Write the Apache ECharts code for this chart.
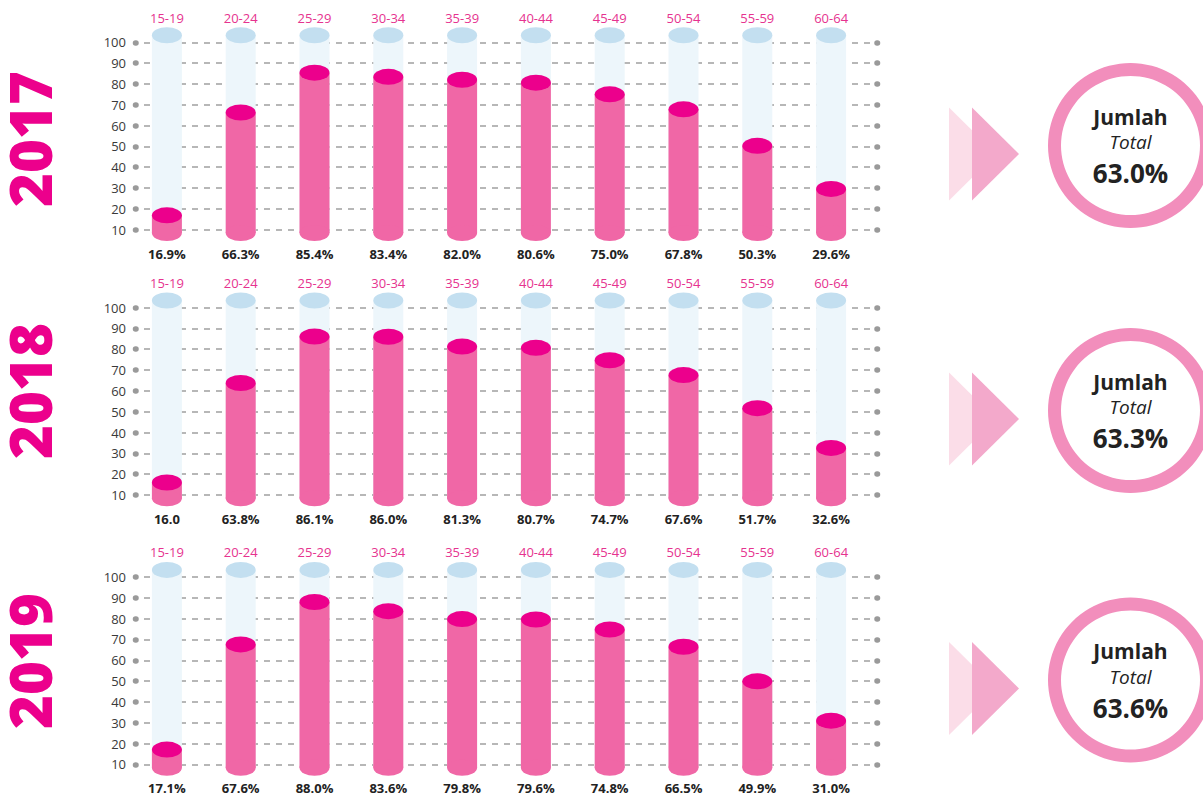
<!DOCTYPE html>
<html>
<head>
<meta charset="utf-8">
<script src="https://cdn.jsdelivr.net/npm/echarts@6/dist/echarts.min.js"></script>
<style>
  html, body { margin: 0; padding: 0; background: #ffffff; }
  #chart { width: 1203px; height: 796px; }
</style>
</head>
<body>
<div id="chart"></div>
<script>
// ---------- data ----------
const years = ['2017', '2018', '2019'];
const ageGroups = ['15-19', '20-24', '25-29', '30-34', '35-39', '40-44', '45-49', '50-54', '55-59', '60-64'];
const values2017 = [16.9, 66.3, 85.4, 83.4, 82.0, 80.6, 75.0, 67.8, 50.3, 29.6];
const values2018 = [16.0, 63.8, 86.1, 86.0, 81.3, 80.7, 74.7, 67.6, 51.7, 32.6];
const values2019 = [17.1, 67.6, 88.0, 83.6, 79.8, 79.6, 74.8, 66.5, 49.9, 31.0];
const totals = [63.0, 63.3, 63.6];
const yTicksMin = 10, yTicksMax = 100, yTickStep = 10;
// label printed without "%" in the source
const labelsWithoutPercent = { '2018': [0] };

// ---------- layout (positions / styles only) ----------
const panelValues = [values2017, values2018, values2019];
const panelTop = [42.3, 307.6, 577];   // pixel y of the 100 line
const panelH = 187.4;                  // 100 -> 10
const k = panelH / (yTicksMax - yTicksMin);
const trackTopVal = 103.4;             // full track height (scale units)
const baseVal = 8.4;                   // scale value at the bottom of the cylinders
const gridLeftA = 130, gridRightA = 1203 - 868;
const gridLeftB = 136, gridRightB = 1203 - 877;
const yearY = [139, 391, 661];
const ringCY = [145.5, 410.5, 680];
const FONT = '"Open Sans", "Noto Sans", sans-serif';

const ELLIPSE = 'path://M0 50A50 50 0 1 0 100 50A50 50 0 1 0 0 50Z';
const C_TRACK = '#EDF6FB', C_TRACK_TOP = '#C3DFF0';
const C_PINK = '#F067A6', C_PINK_TOP = '#EC008C';
const C_LABEL_MAG = '#E6338F';

const grid = [], xAxis = [], yAxis = [], series = [], graphic = [];

years.forEach((yr, p) => {
  const T = panelTop[p];
  const vals = panelValues[p];
  // bar grid: its hidden value axis measures height above the cylinder base (baseVal)
  const heights = vals.map(v => v - baseVal);
  const trackH = trackTopVal - baseVal;
  const topA = T - (trackTopVal - yTicksMax) * k;
  const botA = T + panelH + (yTicksMin - baseVal) * k;
  grid.push({ left: gridLeftA, right: gridRightA, top: topA, height: botA - topA });
  grid.push({ left: gridLeftB, right: gridRightB, top: T, height: panelH });

  const gA = 2 * p, gB = 2 * p + 1;
  xAxis.push({
    type: 'category', gridIndex: gA, data: ageGroups, position: 'top',
    axisLine: { show: false }, axisTick: { show: false }, splitLine: { show: false },
    axisLabel: { color: C_LABEL_MAG, fontSize: 13, fontFamily: FONT, margin: 11 }
  });
  xAxis.push({ type: 'value', gridIndex: gB, min: 0, max: 1, show: false });

  const yA = 3 * p;
  yAxis.push({ type: 'value', gridIndex: gA, min: 0, max: trackH, show: false });
  const dotTick = { show: true, length: 0.5, lineStyle: { color: '#9A9A9A', width: 5.5, cap: 'round' } };
  yAxis.push({
    type: 'value', gridIndex: gB, min: yTicksMin, max: yTicksMax, interval: yTickStep,
    axisLine: { show: false }, axisTick: dotTick,
    axisLabel: { color: '#3A3A3A', fontSize: 13, fontFamily: FONT, margin: 10 },
    splitLine: { show: true, lineStyle: { color: '#A0A0A0', width: 1.5, type: [6, 6], dashOffset: 4 } }
  });
  yAxis.push({
    type: 'value', gridIndex: gB, position: 'right', min: yTicksMin, max: yTicksMax, interval: yTickStep,
    axisLine: { show: false }, axisTick: dotTick, axisLabel: { show: false }, splitLine: { show: false }
  });

  const noPct = labelsWithoutPercent[yr] || [];
  series.push({
    type: 'bar', xAxisIndex: gA, yAxisIndex: yA, data: heights, barWidth: 30,
    showBackground: true, backgroundStyle: { color: C_TRACK },
    itemStyle: { color: C_PINK }, z: 2,
    label: {
      show: true, position: 'bottom', distance: 14,
      color: '#222', fontSize: 13, fontWeight: 'bold', fontFamily: FONT,
      formatter: (d) => vals[d.dataIndex].toFixed(1) + (noPct.includes(d.dataIndex) ? '' : '%')
    }
  });
  series.push({
    type: 'pictorialBar', xAxisIndex: gA, yAxisIndex: yA,
    data: ageGroups.map(() => trackH), symbol: ELLIPSE, symbolSize: [30, 16],
    symbolPosition: 'end', symbolOffset: [0, '-50%'], itemStyle: { color: C_TRACK_TOP }, z: 3
  });
  series.push({
    type: 'pictorialBar', xAxisIndex: gA, yAxisIndex: yA,
    data: heights, symbol: ELLIPSE, symbolSize: [30, 16],
    symbolPosition: 'start', symbolOffset: [0, '50%'], itemStyle: { color: C_PINK }, z: 3
  });
  series.push({
    type: 'pictorialBar', xAxisIndex: gA, yAxisIndex: yA,
    data: heights, symbol: ELLIPSE, symbolSize: [30, 16],
    symbolPosition: 'end', symbolOffset: [0, '-50%'], itemStyle: { color: C_PINK_TOP }, z: 4
  });

  // year title
  graphic.push({
    type: 'text', x: 29, y: yearY[p], rotation: Math.PI / 2,
    style: { text: yr, fill: '#EC008C', fontSize: 58, lineHeight: 44, fontWeight: 800, fontFamily: FONT, align: 'center', verticalAlign: 'middle' }
  });
  // arrows
  const ay = ringCY[p] + 8.5;
  graphic.push({ type: 'polygon', shape: { points: [[949, ay - 46.5], [996, ay], [949, ay + 46.5]] }, style: { fill: '#FBDDE8' } });
  graphic.push({ type: 'polygon', shape: { points: [[972, ay - 46.5], [1019, ay], [972, ay + 46.5]] }, style: { fill: '#F3A9CB' } });
  // ring
  const cy = ringCY[p], cx = 1130.5;
  graphic.push({ type: 'ring', shape: { cx: cx, cy: cy, r: 82.5, r0: 69.5 }, style: { fill: '#F28EBC' } });
  graphic.push({ type: 'text', x: cx, y: cy - 29, style: { text: 'Jumlah', fill: '#222', fontSize: 21, lineHeight: 21, fontWeight: 'bold', fontFamily: FONT, align: 'center', verticalAlign: 'middle' } });
  graphic.push({ type: 'text', x: cx, y: cy - 3.5, style: { text: 'Total', fill: '#222', fontSize: 19, lineHeight: 19, fontStyle: 'italic', fontFamily: FONT, align: 'center', verticalAlign: 'middle' } });
  graphic.push({ type: 'text', x: cx, y: cy + 27.5, style: { text: totals[p].toFixed(1) + '%', fill: '#222', fontSize: 26, lineHeight: 26, fontWeight: 'bold', fontFamily: FONT, align: 'center', verticalAlign: 'middle' } });
});

const chart = echarts.init(document.getElementById('chart'), null, { renderer: 'svg' });
chart.setOption({
  animation: false,
  backgroundColor: '#ffffff',
  grid, xAxis, yAxis, series, graphic
});
</script>
</body>
</html>
